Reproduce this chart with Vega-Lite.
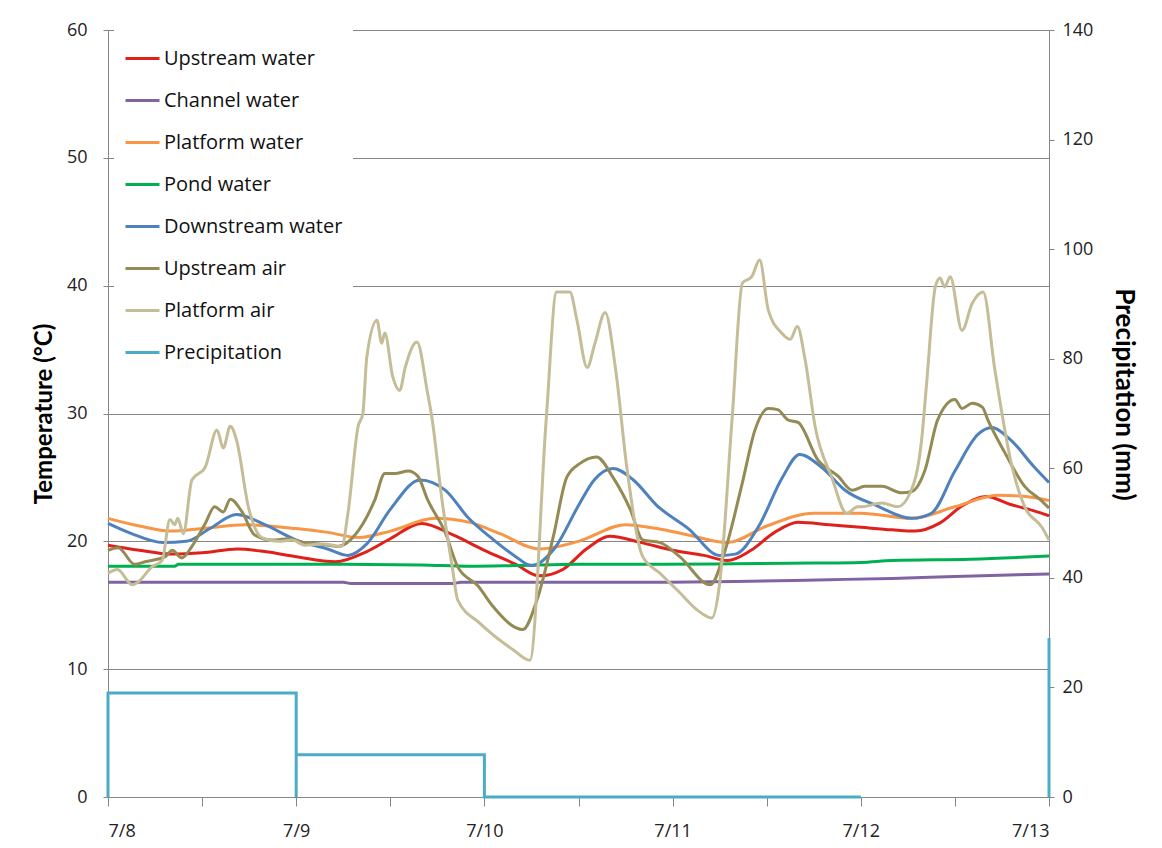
{
"$schema":"https://vega.github.io/schema/vega-lite/v6.json",
"width":941,"height":767,
"autosize":{"type":"none"},
"padding":{"left":108,"top":30,"right":113,"bottom":51},
"background":"white",
"config":{"view":{"stroke":null},"font":"Open Sans",
 "axis":{"domainColor":"#868686","tickColor":"#868686","gridColor":"#868686","labelColor":"#222222","labelFontSize":18,"labelFont":"Open Sans","titleFont":"Lato","titleFontWeight":"bold","titleFontSize":24,"titleColor":"#000000"}},
"datasets":{
"temp":[
{"s":"Upstream water","h":0,"v":19.7},{"s":"Upstream water","h":4,"v":19.3},{"s":"Upstream water","h":8,"v":19.0},{"s":"Upstream water","h":12,"v":19.1},{"s":"Upstream water","h":16.5,"v":19.4},{"s":"Upstream water","h":20,"v":19.2},{"s":"Upstream water","h":24,"v":18.8},{"s":"Upstream water","h":29,"v":18.4},{"s":"Upstream water","h":33,"v":19.2},{"s":"Upstream water","h":36,"v":20.2},{"s":"Upstream water","h":40,"v":21.4},{"s":"Upstream water","h":44,"v":20.5},{"s":"Upstream water","h":48,"v":19.3},{"s":"Upstream water","h":52,"v":18.2},{"s":"Upstream water","h":55,"v":17.3},{"s":"Upstream water","h":58,"v":17.8},{"s":"Upstream water","h":61,"v":19.4},{"s":"Upstream water","h":64,"v":20.4},{"s":"Upstream water","h":68,"v":19.9},{"s":"Upstream water","h":72,"v":19.3},{"s":"Upstream water","h":76,"v":18.9},{"s":"Upstream water","h":79,"v":18.5},{"s":"Upstream water","h":82,"v":19.3},{"s":"Upstream water","h":85,"v":20.7},{"s":"Upstream water","h":88,"v":21.5},{"s":"Upstream water","h":92,"v":21.3},{"s":"Upstream water","h":96,"v":21.1},{"s":"Upstream water","h":100,"v":20.9},{"s":"Upstream water","h":103,"v":20.8},{"s":"Upstream water","h":106,"v":21.4},{"s":"Upstream water","h":109,"v":22.8},{"s":"Upstream water","h":112,"v":23.5},{"s":"Upstream water","h":115,"v":22.9},{"s":"Upstream water","h":118,"v":22.4},{"s":"Upstream water","h":120,"v":22.0},
{"s":"Channel water","h":0,"v":16.8},{"s":"Channel water","h":20,"v":16.8},{"s":"Channel water","h":30,"v":16.8},{"s":"Channel water","h":31,"v":16.7},{"s":"Channel water","h":44,"v":16.7},{"s":"Channel water","h":45,"v":16.8},{"s":"Channel water","h":70,"v":16.8},{"s":"Channel water","h":80,"v":16.85},{"s":"Channel water","h":92,"v":17.0},{"s":"Channel water","h":100,"v":17.1},{"s":"Channel water","h":108,"v":17.25},{"s":"Channel water","h":120,"v":17.45},
{"s":"Platform water","h":0,"v":21.8},{"s":"Platform water","h":4,"v":21.2},{"s":"Platform water","h":8,"v":20.8},{"s":"Platform water","h":12,"v":21.0},{"s":"Platform water","h":17.5,"v":21.3},{"s":"Platform water","h":24,"v":21.0},{"s":"Platform water","h":28,"v":20.7},{"s":"Platform water","h":32,"v":20.3},{"s":"Platform water","h":36,"v":20.8},{"s":"Platform water","h":41.7,"v":21.8},{"s":"Platform water","h":46,"v":21.5},{"s":"Platform water","h":50,"v":20.6},{"s":"Platform water","h":55,"v":19.4},{"s":"Platform water","h":60,"v":20.0},{"s":"Platform water","h":66,"v":21.3},{"s":"Platform water","h":70,"v":21.0},{"s":"Platform water","h":74,"v":20.5},{"s":"Platform water","h":79,"v":19.9},{"s":"Platform water","h":84,"v":21.2},{"s":"Platform water","h":90,"v":22.2},{"s":"Platform water","h":96,"v":22.2},{"s":"Platform water","h":102.5,"v":21.8},{"s":"Platform water","h":108,"v":22.7},{"s":"Platform water","h":113.5,"v":23.6},{"s":"Platform water","h":117,"v":23.5},{"s":"Platform water","h":120,"v":23.2},
{"s":"Pond water","h":0,"v":18.05},{"s":"Pond water","h":8.5,"v":18.05},{"s":"Pond water","h":9,"v":18.2},{"s":"Pond water","h":30,"v":18.2},{"s":"Pond water","h":40,"v":18.15},{"s":"Pond water","h":46,"v":18.05},{"s":"Pond water","h":52,"v":18.1},{"s":"Pond water","h":60,"v":18.2},{"s":"Pond water","h":70,"v":18.2},{"s":"Pond water","h":80,"v":18.25},{"s":"Pond water","h":90,"v":18.3},{"s":"Pond water","h":96,"v":18.35},{"s":"Pond water","h":100,"v":18.5},{"s":"Pond water","h":110,"v":18.6},{"s":"Pond water","h":120,"v":18.85},
{"s":"Downstream water","h":0,"v":21.4},{"s":"Downstream water","h":3,"v":20.6},{"s":"Downstream water","h":7,"v":19.9},{"s":"Downstream water","h":10,"v":20.0},{"s":"Downstream water","h":13,"v":21.0},{"s":"Downstream water","h":16.4,"v":22.1},{"s":"Downstream water","h":20,"v":21.3},{"s":"Downstream water","h":24,"v":20.1},{"s":"Downstream water","h":28,"v":19.4},{"s":"Downstream water","h":30.6,"v":18.9},{"s":"Downstream water","h":33,"v":19.8},{"s":"Downstream water","h":36,"v":22.5},{"s":"Downstream water","h":39.8,"v":24.8},{"s":"Downstream water","h":43,"v":24.0},{"s":"Downstream water","h":46,"v":21.8},{"s":"Downstream water","h":49,"v":20.2},{"s":"Downstream water","h":52,"v":18.8},{"s":"Downstream water","h":54,"v":18.1},{"s":"Downstream water","h":57,"v":19.5},{"s":"Downstream water","h":60,"v":22.8},{"s":"Downstream water","h":62,"v":24.8},{"s":"Downstream water","h":64.4,"v":25.7},{"s":"Downstream water","h":67,"v":24.8},{"s":"Downstream water","h":70,"v":22.8},{"s":"Downstream water","h":74,"v":21.0},{"s":"Downstream water","h":78,"v":18.9},{"s":"Downstream water","h":80,"v":19.0},{"s":"Downstream water","h":83,"v":21.2},{"s":"Downstream water","h":86,"v":25.0},{"s":"Downstream water","h":88.2,"v":26.8},{"s":"Downstream water","h":91,"v":25.8},{"s":"Downstream water","h":94,"v":24.0},{"s":"Downstream water","h":98,"v":22.8},{"s":"Downstream water","h":102.5,"v":21.8},{"s":"Downstream water","h":105,"v":22.2},{"s":"Downstream water","h":108,"v":25.5},{"s":"Downstream water","h":111,"v":28.4},{"s":"Downstream water","h":112.7,"v":28.9},{"s":"Downstream water","h":115,"v":28.0},{"s":"Downstream water","h":118,"v":25.9},{"s":"Downstream water","h":120,"v":24.6},
{"s":"Upstream air","h":0,"v":19.3},{"s":"Upstream air","h":1.3,"v":19.5},{"s":"Upstream air","h":3.4,"v":18.2},{"s":"Upstream air","h":4.7,"v":18.4},{"s":"Upstream air","h":7.3,"v":18.8},{"s":"Upstream air","h":8.2,"v":19.3},{"s":"Upstream air","h":9.4,"v":18.7},{"s":"Upstream air","h":10.7,"v":19.6},{"s":"Upstream air","h":12.4,"v":21.4},{"s":"Upstream air","h":13.6,"v":22.7},{"s":"Upstream air","h":14.7,"v":22.3},{"s":"Upstream air","h":15.6,"v":23.3},{"s":"Upstream air","h":17.1,"v":22.3},{"s":"Upstream air","h":18.7,"v":20.5},{"s":"Upstream air","h":20.9,"v":20.1},{"s":"Upstream air","h":23,"v":20.2},{"s":"Upstream air","h":25.1,"v":19.9},{"s":"Upstream air","h":27,"v":19.8},{"s":"Upstream air","h":29.3,"v":19.6},{"s":"Upstream air","h":31.5,"v":20.5},{"s":"Upstream air","h":34,"v":23.2},{"s":"Upstream air","h":35.3,"v":25.3},{"s":"Upstream air","h":36.6,"v":25.3},{"s":"Upstream air","h":38.3,"v":25.5},{"s":"Upstream air","h":39.5,"v":25.1},{"s":"Upstream air","h":40.8,"v":23.2},{"s":"Upstream air","h":43,"v":20.7},{"s":"Upstream air","h":44.6,"v":18.0},{"s":"Upstream air","h":47.2,"v":16.5},{"s":"Upstream air","h":49.1,"v":14.9},{"s":"Upstream air","h":52.9,"v":13.1},{"s":"Upstream air","h":54.7,"v":15.4},{"s":"Upstream air","h":56.8,"v":20.4},{"s":"Upstream air","h":58.5,"v":25.0},{"s":"Upstream air","h":60.2,"v":26.1},{"s":"Upstream air","h":62.3,"v":26.6},{"s":"Upstream air","h":64.4,"v":25.0},{"s":"Upstream air","h":66.6,"v":22.5},{"s":"Upstream air","h":68.2,"v":20.1},{"s":"Upstream air","h":70.4,"v":19.9},{"s":"Upstream air","h":72.9,"v":18.8},{"s":"Upstream air","h":76.8,"v":16.6},{"s":"Upstream air","h":78.7,"v":19.3},{"s":"Upstream air","h":80.9,"v":24.6},{"s":"Upstream air","h":82.5,"v":28.7},{"s":"Upstream air","h":84.2,"v":30.4},{"s":"Upstream air","h":85.4,"v":30.3},{"s":"Upstream air","h":86.7,"v":29.5},{"s":"Upstream air","h":88,"v":29.3},{"s":"Upstream air","h":90.5,"v":26.4},{"s":"Upstream air","h":93.1,"v":25.1},{"s":"Upstream air","h":94.9,"v":24.0},{"s":"Upstream air","h":96.5,"v":24.3},{"s":"Upstream air","h":98.7,"v":24.3},{"s":"Upstream air","h":101.2,"v":23.8},{"s":"Upstream air","h":102.5,"v":23.9},{"s":"Upstream air","h":104.2,"v":25.6},{"s":"Upstream air","h":105.8,"v":29.5},{"s":"Upstream air","h":108,"v":31.1},{"s":"Upstream air","h":108.9,"v":30.4},{"s":"Upstream air","h":110.2,"v":30.8},{"s":"Upstream air","h":111.5,"v":30.5},{"s":"Upstream air","h":112.2,"v":29.5},{"s":"Upstream air","h":114.4,"v":26.9},{"s":"Upstream air","h":116.9,"v":24.3},{"s":"Upstream air","h":119,"v":23.2},{"s":"Upstream air","h":120,"v":22.6},
{"s":"Platform air","h":0,"v":17.5},{"s":"Platform air","h":1.2,"v":17.8},{"s":"Platform air","h":3.1,"v":16.6},{"s":"Platform air","h":3.8,"v":16.8},{"s":"Platform air","h":5.6,"v":18.0},{"s":"Platform air","h":6.9,"v":18.5},{"s":"Platform air","h":7.9,"v":21.7},{"s":"Platform air","h":8.5,"v":21.3},{"s":"Platform air","h":8.9,"v":21.8},{"s":"Platform air","h":9.6,"v":20.6},{"s":"Platform air","h":10.7,"v":24.8},{"s":"Platform air","h":12.4,"v":25.8},{"s":"Platform air","h":13.9,"v":28.7},{"s":"Platform air","h":14.7,"v":27.3},{"s":"Platform air","h":15.6,"v":29.0},{"s":"Platform air","h":16.4,"v":27.9},{"s":"Platform air","h":17.9,"v":22.7},{"s":"Platform air","h":19.6,"v":20.3},{"s":"Platform air","h":21.7,"v":20.0},{"s":"Platform air","h":23.5,"v":20.1},{"s":"Platform air","h":25.1,"v":19.7},{"s":"Platform air","h":27.5,"v":19.8},{"s":"Platform air","h":29.8,"v":19.6},{"s":"Platform air","h":30.6,"v":22.2},{"s":"Platform air","h":31.9,"v":29.0},{"s":"Platform air","h":32.5,"v":30.0},{"s":"Platform air","h":33,"v":34.4},{"s":"Platform air","h":34.3,"v":37.3},{"s":"Platform air","h":34.9,"v":35.5},{"s":"Platform air","h":35.3,"v":36.3},{"s":"Platform air","h":36.3,"v":32.9},{"s":"Platform air","h":37.2,"v":31.8},{"s":"Platform air","h":37.9,"v":33.6},{"s":"Platform air","h":39.4,"v":35.6},{"s":"Platform air","h":40.7,"v":31.8},{"s":"Platform air","h":41.3,"v":29.7},{"s":"Platform air","h":42.6,"v":23.2},{"s":"Platform air","h":43.9,"v":18.0},{"s":"Platform air","h":44.6,"v":15.4},{"s":"Platform air","h":47.4,"v":13.6},{"s":"Platform air","h":51.7,"v":11.5},{"s":"Platform air","h":53.8,"v":10.7},{"s":"Platform air","h":55.9,"v":29.7},{"s":"Platform air","h":57.2,"v":39.5},{"s":"Platform air","h":58.9,"v":39.5},{"s":"Platform air","h":59.8,"v":37.3},{"s":"Platform air","h":61.1,"v":33.6},{"s":"Platform air","h":62.1,"v":35.5},{"s":"Platform air","h":63.4,"v":37.9},{"s":"Platform air","h":64.7,"v":33.6},{"s":"Platform air","h":66.2,"v":25.6},{"s":"Platform air","h":68.2,"v":18.8},{"s":"Platform air","h":70.4,"v":17.5},{"s":"Platform air","h":72.9,"v":16.0},{"s":"Platform air","h":75.2,"v":14.6},{"s":"Platform air","h":77,"v":14.0},{"s":"Platform air","h":78,"v":16.7},{"s":"Platform air","h":79.6,"v":29.7},{"s":"Platform air","h":80.9,"v":40.2},{"s":"Platform air","h":82.1,"v":40.7},{"s":"Platform air","h":83.1,"v":42.0},{"s":"Platform air","h":84.2,"v":38.1},{"s":"Platform air","h":85.9,"v":36.3},{"s":"Platform air","h":87,"v":35.8},{"s":"Platform air","h":87.9,"v":36.8},{"s":"Platform air","h":88.9,"v":34.2},{"s":"Platform air","h":90.2,"v":28.9},{"s":"Platform air","h":92.3,"v":25.0},{"s":"Platform air","h":94.2,"v":22.2},{"s":"Platform air","h":95.6,"v":22.7},{"s":"Platform air","h":96.1,"v":22.7},{"s":"Platform air","h":98.7,"v":23.0},{"s":"Platform air","h":100.7,"v":22.7},{"s":"Platform air","h":102.3,"v":23.8},{"s":"Platform air","h":103.8,"v":28.2},{"s":"Platform air","h":104.4,"v":32.4},{"s":"Platform air","h":105.5,"v":39.9},{"s":"Platform air","h":106.1,"v":40.6},{"s":"Platform air","h":106.7,"v":39.9},{"s":"Platform air","h":107.4,"v":40.7},{"s":"Platform air","h":108.9,"v":36.5},{"s":"Platform air","h":110.2,"v":38.6},{"s":"Platform air","h":111.6,"v":39.5},{"s":"Platform air","h":113.1,"v":33.4},{"s":"Platform air","h":115.3,"v":25.8},{"s":"Platform air","h":116.9,"v":22.7},{"s":"Platform air","h":119.1,"v":21.1},{"s":"Platform air","h":120,"v":20.1}
],
"precip":[
{"s":"Precipitation","g":1,"i":0,"h":0,"v":0},{"s":"Precipitation","g":1,"i":1,"h":0,"v":19},{"s":"Precipitation","g":1,"i":2,"h":24,"v":19},{"s":"Precipitation","g":1,"i":3,"h":24,"v":0},{"s":"Precipitation","g":1,"i":4,"h":24,"v":7.7},{"s":"Precipitation","g":1,"i":5,"h":48,"v":7.7},{"s":"Precipitation","g":1,"i":6,"h":48,"v":0},{"s":"Precipitation","g":1,"i":7,"h":96,"v":0},
{"s":"Precipitation","g":2,"i":8,"h":120,"v":0},{"s":"Precipitation","g":2,"i":9,"h":120,"v":29}
]},
"layer":[
{"data":{"name":"temp"},
 "mark":{"type":"line","strokeWidth":3,"strokeJoin":"round","interpolate":"monotone"},
 "encoding":{
  "x":{"field":"h","type":"quantitative","scale":{"domain":[0,120],"nice":false},
   "axis":{"title":null,"values":[0,12,24,36,48,60,72,84,96,108,120],"labelExpr":"datum.value % 24 == 0 ? '7/' + (8 + datum.value/24) : ''","tickSize":9,"labelPadding":16,"grid":false}},
  "y":{"field":"v","type":"quantitative","scale":{"domain":[0,60],"nice":false},
   "axis":{"title":"Temperature (°C)","values":[0,10,20,30,40,50,60],"tickSize":5,"labelPadding":16,"grid":true,"titlePadding":10}},
  "color":{"field":"s","type":"nominal",
   "scale":{"domain":["Upstream water","Channel water","Platform water","Pond water","Downstream water","Upstream air","Platform air","Precipitation"],
            "range":["#E0201B","#8064A2","#F79646","#00B050","#4F81BD","#948A54","#C4BD97","#4BACC6"]},
   "legend":{"title":null,"orient":"none","legendX":6,"legendY":0,"fillColor":"white","padding":10,"symbolType":"stroke","symbolSize":1156,"symbolStrokeWidth":3,"labelFontSize":20,"labelFont":"Open Sans","labelColor":"#111111","labelLimit":400,"rowPadding":13,"labelOffset":3}}
 }},
{"data":{"name":"precip"},
 "mark":{"type":"line","strokeWidth":3},
 "encoding":{
  "x":{"field":"h","type":"quantitative"},
  "y":{"field":"v","type":"quantitative","scale":{"domain":[0,140],"nice":false},
   "axis":{"orient":"right","title":"Precipitation (mm)","titleAngle":90,"titleFontSize":26,"titleY":364,"values":[0,20,40,60,80,100,120,140],"tickSize":5,"labelPadding":8,"grid":false,"titlePadding":18}},
  "color":{"field":"s","type":"nominal"},
  "detail":{"field":"g"},
  "order":{"field":"i","type":"quantitative"}
 }}
],
"resolve":{"scale":{"y":"independent"}}
}
